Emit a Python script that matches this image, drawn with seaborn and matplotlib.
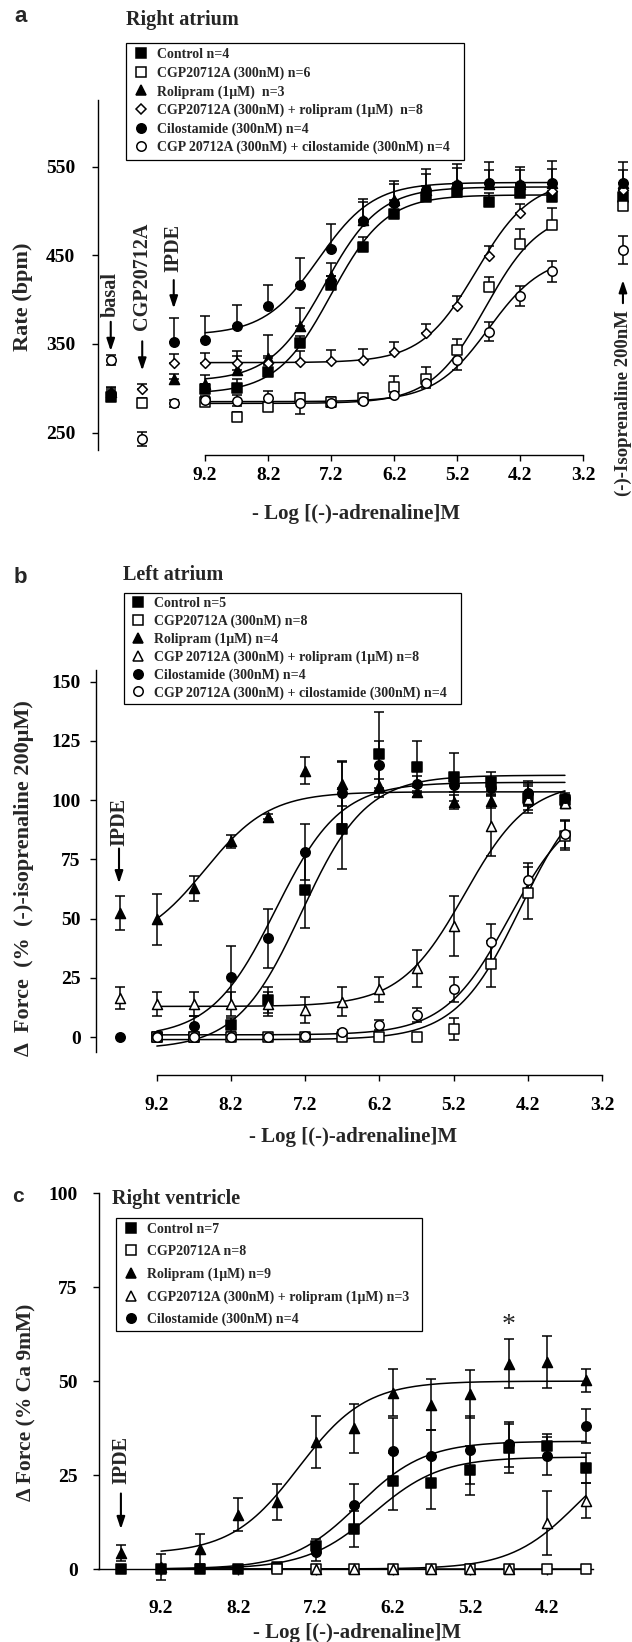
import numpy as np
import pandas as pd
import matplotlib
matplotlib.use("Agg")
import matplotlib.pyplot as plt
import seaborn as sns
from matplotlib.lines import Line2D

nan = np.nan

# ---------------- data: panel a (Right atrium, rate in bpm) ----------------
# positions: basal, CGP20712A, IPDE, 9.2 ... 3.7, (-)-isoprenaline 200nM
A_X = [10.7, 10.2, 9.7, 9.2, 8.7, 8.2, 7.7, 7.2, 6.7, 6.2, 5.7, 5.2, 4.7, 4.2, 3.7, 2.57]
a_labels = ["Control n=4", "CGP20712A (300nM) n=6", "Rolipram (1\u03bcM)  n=3",
            "CGP20712A (300nM) + rolipram (1\u03bcM)  n=8", "Cilostamide (300nM) n=4",
            "CGP 20712A (300nM) + cilostamide (300nM) n=4"]
a_control = [290, nan, nan, 299, 300, 318, 351, 417, 459, 497, 516, 521, 510, 520, 516, 516]
a_control_err = [8, nan, nan, 6, 10, 8, 8, 10, 12, 10, 12, 10, 10, 10, 10, 8]
a_cgp = [nan, 284, nan, 285, 268, 279, 289, 285, 289, 301, 310, 343, 414, 463, 484, 505]
a_cgp_err = [nan, 5, nan, 5, 5, 5, 5, 5, 5, 13, 14, 13, 12, 17, 19, 6]
a_roli = [296, nan, 310, 305, 321, 334, 370, 427, 490, 512, 524, 530, 530, 530, 531, 532]
a_roli_err = [6, nan, 6, 10, 21, 26, 20, 14, 20, 18, 18, 18, 16, 16, 16, 14]
a_cgp_roli = [nan, 299, 329, 329, 329, 329, 330, 331, 332, 341, 362, 393, 449, 498, 522, 524]
a_cgp_roli_err = [nan, 6, 10, 11, 8, 8, 12, 12, 12, 11, 10, 11, 12, 10, 8, 8]
a_cilo = [294, nan, 352, 355, 370, 393, 417, 457, 489, 509, 524, 529, 531, 529, 532, 532]
a_cilo_err = [6, nan, 27, 27, 24, 23, 30, 28, 24, 25, 23, 24, 24, 21, 24, 23]
a_cgp_cilo = [332, 243, 283, 287, 286, 289, 283, 283, 286, 293, 306, 332, 364, 404, 432, 456]
a_cgp_cilo_err = [6, 8, 4, 4, 6, 8, 12, 4, 4, 4, 6, 11, 11, 11, 12, 16]
# fitted Hill curves (bottom, top, pEC50)
a_fit_bottom = [294, 283, 308, 329, 360, 285]
a_fit_top = [518, 500, 527, 535, 532, 450]
a_fit_pec50 = [7.2, 4.75, 7.3, 4.9, 7.4, 4.7]

# ---------------- data: panel b (Left atrium) ----------------
B_X = [9.7, 9.2, 8.7, 8.2, 7.7, 7.2, 6.7, 6.2, 5.7, 5.2, 4.7, 4.2, 3.7]
b_labels = ["Control n=5", "CGP20712A (300nM) n=8", "Rolipram (1\u03bcM) n=4",
            "CGP 20712A (300nM) + rolipram (1\u03bcM) n=8", "Cilostamide (300nM) n=4",
            "CGP 20712A (300nM) + cilostamide (300nM) n=4"]
b_control = [nan, 0.3, 0, 5.2, 15.7, 62, 88, 119.3, 114, 109.8, 107.7, 101, 100]
b_control_err = [nan, 1, 1, 3, 5.6, 16, 17, 18, 11, 10, 4, 5, 2]
b_cgp = [nan, 0, 0, 0, 0, 0, 0, 0, 0, 3.4, 30.8, 60.7, 85]
b_cgp_err = [nan, 0, 0, 0, 0, 0, 0, 0, 0, 4.7, 9.8, 11, 6]
b_roli = [52.4, 49.7, 62.8, 82.7, 93, 112.4, 107, 106, 103.5, 99.3, 99.6, 100.7, 98.6]
b_roli_err = [7, 10.7, 5.3, 2.8, 1, 5.6, 9.4, 3, 2, 3, 3, 6, 2]
b_cgp_roli = [16.7, 14, 14, 14, 14, 11.5, 15, 20.2, 29, 47, 89, 100.4, 99]
b_cgp_roli_err = [4.6, 5, 5, 5, 5, 5.6, 6, 5.3, 7.8, 12.6, 12.6, 3, 2]
b_cilo = [0, 0.5, 4.8, 25.3, 41.7, 78, 103, 115, 107, 106.3, 105, 103, 101]
b_cilo_err = [nan, 1, 4, 13.3, 12.3, 11.8, 13, 10, 3, 3, 3, 5, 2]
b_cgp_cilo = [nan, 0, 0, 0, 0, 0.5, 2.1, 5.2, 9.4, 20.2, 40.3, 66.3, 85.7]
b_cgp_cilo_err = [nan, 0, 0, 0, 0, 0, 1, 2, 3, 5.3, 7.6, 7, 6]
b_fit_bottom = [-5, -1, 38, 13, 0, 1]
b_fit_top = [110.5, 110, 103.5, 108, 107.5, 100]
b_fit_pec50 = [7.25, 4.3, 8.55, 5.05, 7.6, 4.45]

# ---------------- data: panel c (Right ventricle) ----------------
C_X = [9.72, 9.2, 8.7, 8.2, 7.7, 7.2, 6.7, 6.2, 5.7, 5.2, 4.7, 4.2, 3.7]
c_labels = ["Control n=7", "CGP20712A n=8", "Rolipram (1\u03bcM) n=9",
            "CGP20712A (300nM) + rolipram (1\u03bcM) n=3", "Cilostamide (300nM) n=4"]
c_control = [0, 0, 0, 0, 0.5, 6, 10.6, 23.4, 22.8, 26.3, 32.1, 32.8, 27]
c_control_err = [0, 0, 0, 0, 0, 2, 4.8, 7.6, 6.8, 6.5, 6.5, 3, 4]
c_cgp = [nan, nan, nan, nan, 0, 0, 0, 0, 0, 0, 0, 0, 0]
c_cgp_err = [nan, nan, nan, nan, 0, 0, 0, 0, 0, 0, 0, 0, 0]
c_roli = [4.2, 0.5, 5.3, 14.5, 17.8, 33.8, 37.4, 46.9, 43.7, 46.6, 54.6, 55.1, 50.2]
c_roli_err = [2.2, 3.5, 4.1, 4.3, 4.8, 7, 6.6, 6.3, 6.8, 6.3, 6.5, 6.8, 3]
c_cgp_roli = [nan, nan, nan, nan, nan, 0, 0, 0, 0, 0, 0, 12.2, 18.2]
c_cgp_roli_err = [nan, nan, nan, nan, nan, 0, 0, 0, 0, 0, 0, 8.5, 4.6]
c_cilo = [nan, nan, nan, nan, nan, 4.6, 17, 31.3, 30.1, 31.6, 33.2, 30.1, 38.1]
c_cilo_err = [nan, nan, nan, nan, nan, 2.5, 5.5, 8.8, 7, 9, 6, 5, 4.6]
c_fit_bottom = [0, 0, 4, 0, 0]
c_fit_top = [29.8, 0, 50, 35, 34]
c_fit_pec50 = [6.45, 5.0, 7.42, 3.8, 6.65]

X_TICKS = [9.2, 8.2, 7.2, 6.2, 5.2, 4.2, 3.2]

# ---------------- styling ----------------
sns.set_theme(style="ticks")
plt.rcParams["font.family"] = ["Liberation Serif", "DejaVu Serif"]
plt.rcParams["font.weight"] = "bold"
plt.rcParams["axes.linewidth"] = 1.0
plt.rcParams["axes.facecolor"] = "white"
plt.rcParams["figure.facecolor"] = "white"

W, H = 632, 1642
fig = plt.figure(figsize=(W / 100, H / 100), dpi=100)


def rect(l, r, t, b):
    return [l / W, 1 - b / H, (r - l) / W, (b - t) / H]


def ftext(x, y, s, **kw):
    fig.text(x / W, 1 - y / H, s, **kw)


def hill(x, bottom, top, pec50):
    return bottom + (top - bottom) / (1 + 10 ** (x - pec50))


MK = {"s": 6.8, "o": 6.8, "^": 7.2, "D": 5.0}


def draw_series(ax, xs, ys, errs, marker, fill, mode, z):
    xs = np.asarray(xs, float)
    ys = np.asarray(ys, float)
    errs = np.asarray(errs, float)
    m = np.isfinite(ys) & np.isfinite(errs) & (errs > 0)
    if m.any():
        if mode == "up":
            yerr = [np.zeros(m.sum()), errs[m]]
        else:
            yerr = errs[m]
        ax.errorbar(xs[m], ys[m], yerr=yerr, fmt="none", ecolor="black",
                    elinewidth=1.1, capsize=3.6, capthick=1.1, zorder=2, clip_on=False)
    mm = np.isfinite(ys)
    sns.scatterplot(x=xs[mm], y=ys[mm], marker=marker, s=MK[marker] ** 2,
                    color=fill, edgecolor="black", linewidth=1.1, ax=ax,
                    zorder=z, clip_on=False, legend=False)


def draw_fits(ax, bottoms, tops, pecs):
    xs = np.linspace(9.2, 3.7, 220)
    for b, t, p in zip(bottoms, tops, pecs):
        sns.lineplot(x=xs, y=hill(xs, b, t, p), color="black", lw=1.1, ax=ax,
                     zorder=2.5, sort=False)


def make_legend(labels, markers, fills, box, spacing, bpad):
    x0, y0, x1, y1 = box
    handles = [Line2D([], [], ls="none", marker=m, ms=MK[m], mfc=f, mec="black", mew=1.1)
               for m, f in zip(markers, fills)]
    leg = fig.legend(handles, labels, loc="upper left",
                     bbox_to_anchor=(x0 / W, 1 - y1 / H, (x1 - x0) / W, (y1 - y0) / H),
                     mode="expand", frameon=True, fancybox=False, edgecolor="black",
                     framealpha=1, borderpad=bpad, labelspacing=spacing, handlelength=1.4,
                     handletextpad=0.45, borderaxespad=0,
                     prop={"family": "Liberation Serif", "weight": "bold", "size": 10})
    leg.get_frame().set_linewidth(0.9)
    return leg


def style_axes(ax, ylab_pad, xlab_pad, outward_px, xticks, bounds=True):
    sns.despine(ax=ax)
    ax.grid(False)
    ax.tick_params(axis="both", direction="out", length=4, width=1.0, labelsize=14,
                   colors="black")
    ax.tick_params(axis="y", pad=ylab_pad)
    ax.tick_params(axis="x", pad=xlab_pad)
    ax.set_xticks(xticks)
    ax.set_xticklabels([f"{v:.1f}" for v in xticks])
    if bounds:
        ax.spines["bottom"].set_bounds(3.2, 9.2)
    ax.spines["bottom"].set_position(("outward", outward_px * 0.72))
    for sp in ("left", "bottom"):
        ax.spines[sp].set_color("black")
        ax.spines[sp].set_linewidth(1.0)
    ax.set_xlabel("")
    ax.set_ylabel("")


def arrow(ax, x, tail, tip):
    ax.annotate("", xy=(x, tip), xytext=(x, tail),
                arrowprops=dict(arrowstyle="-|>,head_length=0.6,head_width=0.2",
                                color="black", lw=1.5, shrinkA=0, shrinkB=0),
                annotation_clip=False)


def vtext(ax, x, y, s, ha="left", size=14.5):
    ax.text(x, y, s, rotation=90, rotation_mode="anchor", ha=ha, va="center",
            fontsize=size, fontweight="bold", clip_on=False)


# ======================= panel a =======================
ax = fig.add_axes(rect(97.5, 630.5, 100, 450))
ax.set_xlim(10.91, 2.45)
ax.set_ylim(230.5, 625)
a_markers = ["s", "s", "^", "D", "o", "o"]
a_fills = ["black", "white", "black", "white", "black", "white"]
a_modes = ["up", "up", "up", "up", "up", "both"]
draw_fits(ax, a_fit_bottom, a_fit_top, a_fit_pec50)
for i, (ys, es) in enumerate([(a_control, a_control_err), (a_cgp, a_cgp_err),
                              (a_roli, a_roli_err), (a_cgp_roli, a_cgp_roli_err),
                              (a_cilo, a_cilo_err), (a_cgp_cilo, a_cgp_cilo_err)]):
    draw_series(ax, A_X, ys, es, a_markers[i], a_fills[i], a_modes[i], 3 + i * 0.1)
style_axes(ax, 12, 4.5, 5, X_TICKS)
ax.set_yticks([250, 350, 450, 550])
ax.set_yticklabels(["250", "350", "450", "550"])
vtext(ax, 10.7, 380, "basal")
arrow(ax, 10.7, 375, 342)
vtext(ax, 10.2, 366, "CGP20712A")
arrow(ax, 10.2, 353, 320)
vtext(ax, 9.7, 431, "IPDE")
arrow(ax, 9.7, 422, 390)
vtext(ax, 2.57, 388, "(-)-Isoprenaline 200nM", ha="right", size=13.5)
arrow(ax, 2.57, 396, 422)
make_legend(a_labels, a_markers, a_fills, (126.2, 42.7, 463.5, 162.3), 0.37, 0.4)
ftext(21, 17, "a", family="Liberation Sans", fontweight="bold", fontsize=16,
      ha="center", va="center")
ftext(126, 24.5, "Right atrium", fontsize=14.5, fontweight="bold", va="baseline")
ftext(23, 297, "Rate (bpm)", rotation=90, fontsize=16, fontweight="bold",
      ha="center", va="center")
ftext(356, 514, "- Log [(-)-adrenaline]M", fontsize=15, fontweight="bold",
      ha="center", va="center")

# ======================= panel b =======================
ax = fig.add_axes(rect(96, 616.9, 670, 1051.7))
ax.set_xlim(10.02, 3.0)
ax.set_ylim(-6.1, 154.9)
b_markers = ["s", "s", "^", "^", "o", "o"]
b_fills = ["black", "white", "black", "white", "black", "white"]
draw_fits(ax, b_fit_bottom, b_fit_top, b_fit_pec50)
for i, (ys, es) in enumerate([(b_control, b_control_err), (b_cgp, b_cgp_err),
                              (b_roli, b_roli_err), (b_cgp_roli, b_cgp_roli_err),
                              (b_cilo, b_cilo_err), (b_cgp_cilo, b_cgp_cilo_err)]):
    draw_series(ax, B_X, ys, es, b_markers[i], b_fills[i], "both", 3 + i * 0.1)
style_axes(ax, 7, 12, 23.3, X_TICKS)
ax.set_yticks([0, 25, 50, 75, 100, 125, 150])
ax.set_yticklabels(["0", "25", "50", "75", "100", "125", "150"])
vtext(ax, 9.71, 80.5, "IPDE")
arrow(ax, 9.71, 79.6, 64.9)
make_legend(b_labels, b_markers, b_fills, (124, 592.7, 460.7, 706), 0.32, 0.3)
ftext(20, 577.5, "b", family="Liberation Sans", fontweight="bold", fontsize=16,
      ha="center", va="center")
ftext(123, 580, "Left atrium", fontsize=14.5, fontweight="bold", va="baseline")
ftext(24, 878, "\u0394  Force  (%  (-)-isoprenaline 200\u03bcM)", rotation=90,
      fontsize=16, fontweight="bold", ha="center", va="center")
ftext(353, 1137, "- Log [(-)-adrenaline]M", fontsize=15, fontweight="bold",
      ha="center", va="center")

# ======================= panel c =======================
ax = fig.add_axes(rect(98.5, 592.8, 1193.3, 1569))
ax.set_xlim(10.01, 3.61)
ax.set_ylim(0, 100)
c_markers = ["s", "s", "^", "^", "o"]
c_fills = ["black", "white", "black", "white", "black"]
draw_fits(ax, c_fit_bottom, c_fit_top, c_fit_pec50)
for i, (ys, es) in enumerate([(c_control, c_control_err), (c_cgp, c_cgp_err),
                              (c_roli, c_roli_err), (c_cgp_roli, c_cgp_roli_err),
                              (c_cilo, c_cilo_err)]):
    draw_series(ax, C_X, ys, es, c_markers[i], c_fills[i], "both", 3 + i * 0.1)
style_axes(ax, 11, 18, 0, X_TICKS[:-1], bounds=False)
ax.set_yticks([0, 25, 50, 75, 100])
ax.set_yticklabels(["0", "25", "50", "75", "100"])
vtext(ax, 9.72, 22.6, "IPDE")
arrow(ax, 9.72, 20.1, 10.6)
ax.text(4.7, 64.9, "*", ha="center", va="center", fontsize=20, fontweight="normal")
make_legend(c_labels, c_markers, c_fills, (116, 1218.3, 422.4, 1333), 0.66, 0.35)
ftext(18.3, 1196.7, "c", family="Liberation Sans", fontweight="bold", fontsize=15,
      ha="center", va="center")
ftext(111.7, 1204, "Right ventricle", fontsize=14.5, fontweight="bold", va="baseline")
ftext(26, 1402, "\u0394 Force (% Ca 9mM)", rotation=90, fontsize=15.5,
      fontweight="bold", ha="center", va="center")
ftext(357, 1633, "- Log [(-)-adrenaline]M", fontsize=15, fontweight="bold",
      ha="center", va="center")

fig.savefig("out.png", dpi=100, facecolor="white")
